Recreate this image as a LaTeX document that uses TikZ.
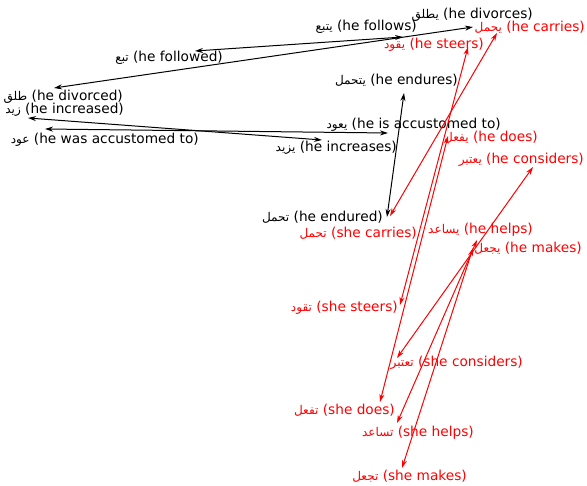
\documentclass[tikz,border=0pt]{standalone}
\usepackage{fontspec}
\setmainfont{DejaVu Sans}
\newfontfamily\arabicfont[Script=Arabic,Scale=0.88]{DejaVu Sans}
\TeXXeTstate=1
\usetikzlibrary{arrows.meta}
\newcommand{\artxt}[1]{{\arabicfont\beginR #1\endR}}

\begin{document}
\begin{tikzpicture}[x=1pt, y=-1pt,
  every node/.style={inner sep=0pt, anchor=base east, font=\fontsize{13.7}{16}\selectfont},
  pair/.style={{Stealth[length=8pt,width=5pt]}-{Stealth[length=8pt,width=5pt]}, line width=1pt},
  fem/.style={red, text=red}]
\useasboundingbox (0,0) rectangle (587,486);
\node (divorces) at (533,19) {\artxt{يطلق} (he divorces)};
\node (follows) at (417,31) {\artxt{يتبع} (he follows)};
\node (followed) at (223,62) {\artxt{تبع} (he followed)};
\node (divorced) at (123,101) {\artxt{طلق} (he divorced)};
\node (increased) at (124,114) {\artxt{زيد} (he increased)};
\node (accustomed) at (199,144) {\artxt{عود} (he was accustomed to)};
\node (endures) at (458,85) {\artxt{يتحمل} (he endures)};
\node (isaccustomed) at (501,129) {\artxt{يعود} (he is accustomed to)};
\node (increases) at (397,152) {\artxt{يزيد} (he increases)};
\node (endured) at (383,222) {\artxt{تحمل} (he endured)};
\node[fem] (carries) at (585,32) {\artxt{يحمل} (he carries)};
\node[fem] (steers) at (484,49) {\artxt{يقود} (he steers)};
\node[fem] (does) at (538,142) {\artxt{يفعل} (he does)};
\node[fem] (considers) at (584,164) {\artxt{يعتبر} (he considers)};
\node[fem] (shecarries) at (417,238) {\artxt{تحمل} (she carries)};
\node[fem] (helps) at (533,234) {\artxt{يساعد} (he helps)};
\node[fem] (makes) at (582,253) {\artxt{يجعل} (he makes)};
\node[fem] (shesteers) at (398,312) {\artxt{تقود} (she steers)};
\node[fem] (sheconsiders) at (523,367) {\artxt{تعتبر} (she considers)};
\node[fem] (shedoes) at (395,415) {\artxt{تفعل} (she does)};
\node[fem] (shehelps) at (474,437) {\artxt{تساعد} (she helps)};
\node[fem] (shemakes) at (467,481) {\artxt{تجعل} (she makes)};
\coordinate (followedP) at (195,51);
\coordinate (followsP) at (403,37);
\coordinate (divorcedP) at (54,88);
\coordinate (divorcesP) at (473,27);
\coordinate (increasedP) at (28,118);
\coordinate (increasesP) at (322,140);
\coordinate (accustomedP) at (45,129);
\coordinate (isaccustomedP) at (388,133);
\coordinate (enduredP) at (387,217);
\coordinate (enduresP) at (404,93);
\coordinate (shecarriesP) at (390,216);
\coordinate (carriesP) at (497,33);
\coordinate (shesteersP) at (400,305);
\coordinate (steersP) at (468,47);
\coordinate (shedoesP) at (380,402);
\coordinate (doesP) at (448,136);
\coordinate (sheconsidersP) at (397,358);
\coordinate (considersP) at (533,167);
\coordinate (shehelpsP) at (397,423);
\coordinate (helpsP) at (477,240);
\coordinate (shemakesP) at (402,468);
\coordinate (makesP) at (473,248);
\draw[pair] (followedP) -- (followsP);
\draw[pair] (divorcedP) -- (divorcesP);
\draw[pair] (increasedP) -- (increasesP);
\draw[pair] (accustomedP) -- (isaccustomedP);
\draw[pair] (enduredP) -- (enduresP);
\draw[pair, fem] (shecarriesP) -- (carriesP);
\draw[pair, fem] (shesteersP) -- (steersP);
\draw[pair, fem] (shedoesP) -- (doesP);
\draw[pair, fem] (sheconsidersP) -- (considersP);
\draw[pair, fem] (shehelpsP) -- (helpsP);
\draw[pair, fem] (shemakesP) -- (makesP);
\end{tikzpicture}
\end{document}
